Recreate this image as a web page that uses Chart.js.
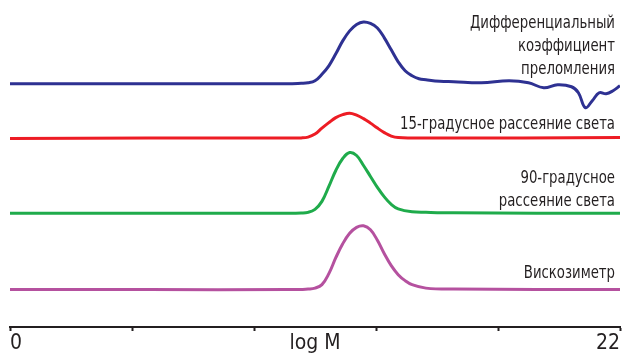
<!DOCTYPE html>
<html>
<head>
<meta charset="utf-8">
<script src="https://cdn.jsdelivr.net/npm/chart.js@4/dist/chart.umd.min.js"></script>
<style>
  html, body { margin: 0; padding: 0; background: #fff; }
  #wrap { width: 625px; height: 356px; }
</style>
</head>
<body>
<div id="wrap"><canvas id="chromChart" width="625" height="356"></canvas></div>
<script>

// -------- DATA --------
// x = log M, y = detector response above its own baseline (arbitrary units)
const driX = [0, 5, 10, 10.5, 10.75, 11, 11.25, 11.5, 11.75, 12, 12.25, 12.5, 12.75, 13, 13.25, 13.5, 13.75, 14, 14.25, 14.5, 14.75, 15, 15.5, 16, 17, 18, 18.7, 19.25, 19.75, 20.25, 20.5, 20.75, 21, 21.25, 21.5, 21.75, 22];
const driY = [0, 0, 0, 0.25, 0.5, 1.5, 4.75, 9, 15, 21.5, 26.5, 29.75, 31, 30.25, 28, 23, 17, 11, 6.5, 4, 2.5, 2, 1.25, 1, 0.5, 1.5, 0.5, -2, -0.5, -1.5, -4.5, -12, -8.5, -4.5, -5, -3.5, -1];

const ls15X = [0, 5, 10, 10.5, 10.75, 11, 11.25, 11.5, 11.75, 12, 12.25, 12.5, 12.75, 13, 13.25, 13.5, 13.75, 14, 15, 22];
const ls15Y = [-0.25, 0, 0, 0.1, 0.5, 2, 5, 7.75, 10.25, 11.75, 12.5, 11.5, 9.75, 7.5, 5, 2.75, 1, 0.25, 0, 0.25];

const ls90X = [0, 5, 10, 10.5, 10.75, 11, 11.25, 11.5, 11.75, 12, 12.25, 12.5, 12.75, 13, 13.25, 13.5, 13.75, 14, 14.5, 15, 16, 22];
const ls90Y = [0, 0, 0.1, 0.2, 0.5, 2, 6, 13.5, 21.5, 27.5, 30.5, 29, 24, 18.5, 13, 8.25, 4.5, 2.25, 0.75, 0.5, 0.25, 0];

const viscX = [0, 5, 10, 10.5, 10.75, 11, 11.25, 11.5, 11.75, 12, 12.25, 12.5, 12.75, 13, 13.25, 13.5, 13.75, 14, 14.25, 14.5, 15, 16, 22];
const viscY = [0, 0, 0, 0.1, 0.25, 0.75, 2.5, 8, 16, 23, 28.25, 31.25, 32, 30, 24.75, 18, 12, 7.5, 4.5, 2.5, 0.75, 0.25, 0];

// vertical offsets of the stacked traces
const offsets = [122, 94.75, 57, 18.75];

const seriesLabels = [
  ['Дифференциальный', 'коэффициент', 'преломления'],
  ['15-градусное рассеяние света'],
  ['90-градусное', 'рассеяние света'],
  ['Вискозиметр']
];
const colors = ['#2e3192', '#ed1c24', '#1fab4b', '#b5519f'];

const xTickValues = [0, 4.4, 8.8, 11, 13.2, 17.6, 22];
const xTickLabels = ['0', '', '', 'log M', '', '', '22'];

// -------- HELPERS --------
const toPoints = (xs, ys, off) => xs.map((x, i) => ({ x, y: off + ys[i] }));

const FONT = "'Liberation Sans Narrow', 'DejaVu Sans Condensed', sans-serif";
const TEXT = '#231f20';

// right-hand trace captions, placed relative to each trace's baseline
const captionPlugin = {
  id: 'captions',
  afterDraw(chart) {
    const { ctx, chartArea, scales } = chart;
    ctx.save();
    ctx.font = '18px ' + FONT;
    ctx.fillStyle = TEXT;
    ctx.textAlign = 'right';
    ctx.textBaseline = 'alphabetic';
    // baseline of the last caption line relative to the trace
    const lastLineShift = [-10, -9.5, -7, -11.5];
    const squeeze = 0.82;
    seriesLabels.forEach((lines, s) => {
      const base = scales.y.getPixelForValue(offsets[s]) + lastLineShift[s];
      lines.forEach((txt, i) => {
        const y = base - (lines.length - 1 - i) * 23;
        ctx.save();
        ctx.translate(chartArea.right - 5, y);
        ctx.scale(squeeze, 1);
        ctx.fillText(txt, 0, 0);
        ctx.restore();
      });
    });
    ctx.restore();
  }
};

// -------- CHART --------
const datasets = [
  toPoints(driX, driY, offsets[0]),
  toPoints(ls15X, ls15Y, offsets[1]),
  toPoints(ls90X, ls90Y, offsets[2]),
  toPoints(viscX, viscY, offsets[3])
].map((data, i) => ({
  data,
  borderColor: colors[i],
  borderWidth: 3,
  pointRadius: 0,
  tension: 0.4,
  fill: false
}));

new Chart(document.getElementById('chromChart'), {
  type: 'line',
  data: { datasets },
  options: {
    responsive: false,
    animation: false,
    layout: { padding: { left: 10, right: 5, top: 0, bottom: 0 } },
    plugins: { legend: { display: false }, tooltip: { enabled: false } },
    scales: {
      x: {
        type: 'linear',
        min: 0,
        max: 22,
        afterBuildTicks: scale => {
          scale.ticks = xTickValues.map(v => ({ value: v }));
        },
        border: { display: true, color: TEXT, width: 2 },
        grid: {
          drawOnChartArea: false,
          drawTicks: true,
          tickLength: 4,
          tickWidth: 2,
          tickColor: ctx => (ctx.tick && ctx.tick.value === 11) ? 'rgba(0,0,0,0)' : TEXT
        },
        ticks: {
          autoSkip: false,
          maxRotation: 0,
          align: 'inner',
          padding: 2,
          color: TEXT,
          font: { family: FONT, size: 21, lineHeight: 1 },
          callback: value => {
            const i = xTickValues.indexOf(value);
            return i >= 0 ? xTickLabels[i] : '';
          }
        }
      },
      y: {
        type: 'linear',
        display: false,
        min: 0,
        max: 164
      }
    }
  },
  plugins: [captionPlugin]
});

</script>
</body>
</html>
